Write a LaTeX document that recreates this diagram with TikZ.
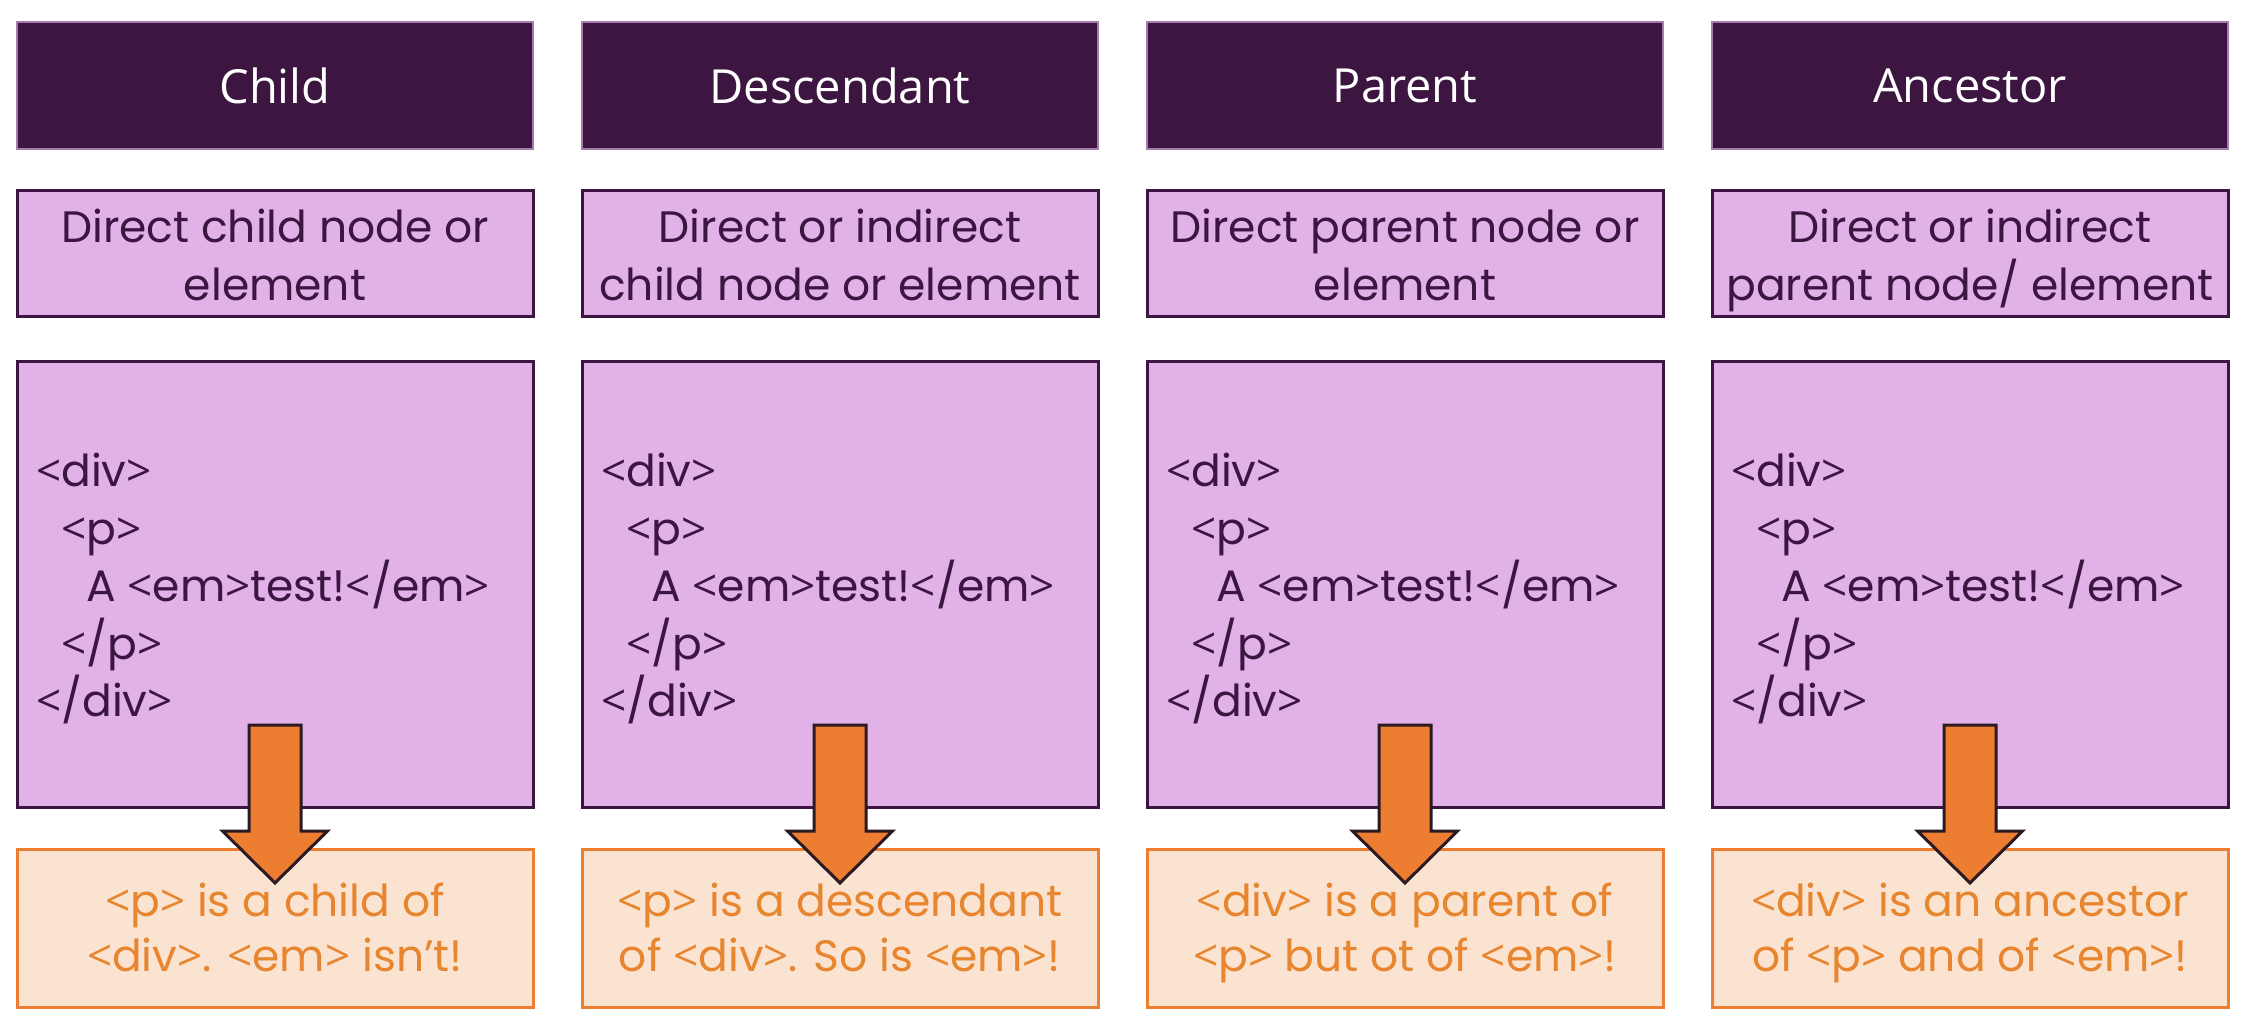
\documentclass[tikz,border=0pt]{standalone}
\usepackage{fontspec}
\setmainfont{Poppins}
\newfontfamily\headfont{Open Sans}
\newfontfamily\bracketfont{Open Sans}
\usetikzlibrary{calc}

% angle brackets are taken from a font with larger brackets
\XeTeXinterchartokenstate=1
\newXeTeXintercharclass\bracketclass
\XeTeXcharclass`\<=\bracketclass
\XeTeXcharclass`\>=\bracketclass
\XeTeXinterchartoks 0 \bracketclass = {\begingroup\bracketfont}
\XeTeXinterchartoks 4095 \bracketclass = {\begingroup\bracketfont}
\XeTeXinterchartoks \bracketclass 0 = {\endgroup}
\XeTeXinterchartoks \bracketclass 4095 = {\endgroup}

% fixed last-line depth, so that all two-line texts sit at the same
% height whatever their descenders
\newcommand\bottomstrut{\rule[-16pt]{0pt}{16pt}}

\definecolor{plum}{HTML}{3C1540}
\definecolor{lilac}{HTML}{E1B1E8}
\definecolor{headedge}{HTML}{A67BAE}
\definecolor{tangerine}{HTML}{ED7D31}
\definecolor{peach}{HTML}{FBE3D2}
\definecolor{notetext}{HTML}{E8852F}
\definecolor{arrowedge}{HTML}{2B1A22}

\tikzset{
  box/.style={rectangle, minimum width=516pt, anchor=north west, outer sep=0pt, inner sep=0pt},
  textblock/.style={inner sep=0pt, align=center, execute at end node=\bottomstrut},
  headbox/.style={box, fill=plum, draw=headedge, line width=1.5pt, minimum height=127pt,
    text=white, font=\headfont\fontsize{47}{56}\selectfont},
  defbox/.style={box, fill=lilac, draw=plum, line width=3pt, minimum height=126pt},
  deftext/.style={textblock, text=plum, font=\fontsize{44}{58}\selectfont},
  codebox/.style={box, fill=lilac, draw=plum, line width=3pt, minimum height=446pt},
  codetext/.style={anchor=west, inner sep=0pt, align=left, text=plum,
    font=\fontsize{44}{57.5}\selectfont},
  notebox/.style={box, fill=peach, draw=tangerine, line width=3pt, minimum height=158pt},
  notetext/.style={textblock, text=notetext, font=\fontsize{44}{55}\selectfont},
  blockarrow/.style={fill=tangerine, draw=arrowedge, line width=3pt, line join=miter},
}

% one column: #1 index, #2 left edge, #3 heading, #4 definition, #5 note
\newcommand\panel[5]{%
  \node[headbox] (h#1) at (#2,22) {#3};
  \node[defbox] (d#1) at (#2,191) {};
  \node[deftext] (dt#1) at ($(d#1.center)+(0,8.5)$) {#4};
  \node[codebox] (c#1) at (#2,361) {};
  \node[codetext] (t#1) at ($(c#1.west)+(19,4.5)$)
    {<div>\\\hspace*{25pt}<p>\\\hspace*{50pt}A <em>test!</em>\\\hspace*{25pt}</p>\\</div>};
  \node[notebox] (n#1) at (#2,849) {};
  \node[notetext] (nt#1) at ($(n#1.center)+(0,7)$) {#5};
  \coordinate (a#1) at ($(c#1.south)+(0,-82)$);
  \draw[blockarrow] ($(a#1)+(-26,0)$) -- ++(52,0) -- ++(0,106) -- ++(26.5,0)
    -- ++(-52.5,52) -- ++(-52.5,-52) -- ++(26.5,0) -- cycle;
}

\begin{document}
\begin{tikzpicture}[x=1pt, y=-1pt]
  \fill[white] (0,0) rectangle (2260,1032);
  \useasboundingbox (0,0) rectangle (2260,1032);
  \panel{1}{17}{Child}{Direct child node or\\element}{<p> is a child of\\<div>. <em> isn’t!}
  \panel{2}{582}{Descendant}{Direct or indirect\\child node or element}{<p> is a descendant\\of <div>. So is <em>!}
  \panel{3}{1147}{Parent}{Direct parent node or\\element}{<div> is a parent of\\<p> but ot of <em>!}
  \panel{4}{1712}{Ancestor}{Direct or indirect\\parent node/ element}{<div> is an ancestor\\of <p> and of <em>!}
\end{tikzpicture}
\end{document}
